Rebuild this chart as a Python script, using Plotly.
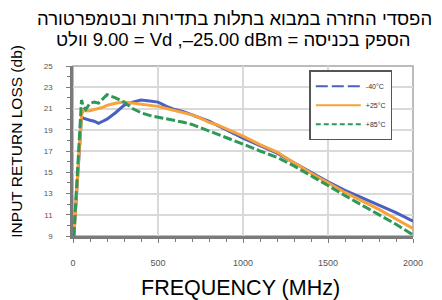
import plotly.graph_objects as go

freq = [5, 25, 50, 60, 75, 100, 125, 150, 175, 200, 250, 300, 350, 400, 450, 500,
        550, 600, 650, 700, 750, 800, 850, 900, 950, 1000, 1100, 1200, 1300, 1400,
        1500, 1600, 1700, 1800, 1900, 2000]

loss_m40 = [9.0, 14.4, 20.2, 20.1, 20.0, 19.9, 19.8, 19.6, 19.8, 20.0, 20.6, 21.3, 21.6, 21.8, 21.7, 21.6,
            21.2, 20.9, 20.7, 20.4, 20.1, 19.8, 19.4, 19.0, 18.6, 18.2, 17.5, 16.8, 15.9, 15.0,
            14.1, 13.3, 12.6, 11.9, 11.2, 10.4]

loss_p25 = [9.0, 14.4, 20.4, 20.8, 20.8, 20.8, 20.9, 21.0, 21.1, 21.3, 21.5, 21.6, 21.5, 21.4, 21.3, 21.2,
            21.0, 20.8, 20.65, 20.4, 20.1, 19.7, 19.45, 19.1, 18.75, 18.4, 17.6, 16.9, 15.9, 14.9,
            14.0, 13.1, 12.3, 11.5, 10.6, 9.7]

loss_p85 = [9.0, 14.5, 21.8, 21.2, 20.9, 21.5, 21.6, 21.5, 21.9, 22.3, 22.0, 21.6, 21.0, 20.6, 20.35, 20.2,
            20.0, 19.85, 19.7, 19.5, 19.2, 18.9, 18.6, 18.3, 17.95, 17.65, 17.0, 16.4, 15.6, 14.7,
            13.75, 12.8, 11.9, 11.0, 10.1, 9.1]

series_names = ["-40°C", "+25°C", "+85°C"]
y_ticks = [9, 11, 13, 15, 17, 19, 21, 23, 25]
x_ticks = [0, 500, 1000, 1500, 2000]

title_line1 = "הפסדי החזרה במבוא בתלות בתדירות ובטמפרטורה"
title_line2 = "וולט\u200e 9.00 = Vd ,–25.00 dBm = הספק בכניסה"
x_title = "FREQUENCY (MHz)"
y_title = "INPUT RETURN LOSS (db)"

colors = ["#4a5fc4", "#f7a23a", "#2e9956"]
plot_dash = ["solid", "solid", "9px,3px"]
legend_dash = ["12px,4px", "solid", "5px,3px"]

FONT = "Liberation Sans, Arial, sans-serif"

fig = go.Figure()
for vals, c, d in zip([loss_m40, loss_p25, loss_p85], colors, plot_dash):
    fig.add_trace(go.Scatter(x=freq, y=vals, mode="lines", showlegend=False,
                             line=dict(color=c, width=3, dash=d)))
for name, c, d in zip(series_names, colors, legend_dash):
    fig.add_trace(go.Scatter(x=[None], y=[None], mode="lines", name=name,
                             line=dict(color=c, width=2, dash=d)))

# the page body adds an 8px offset, so the figure is 8px smaller on each lead edge
fig.update_layout(
    width=434, height=292,
    margin=dict(l=65, r=29, t=58, b=64),
    paper_bgcolor="white", plot_bgcolor="white",
    font=dict(family=FONT, color="black"),
    showlegend=True,
    legend=dict(x=0.695, y=0.975, xanchor="left", yanchor="top",
                bgcolor="white", bordercolor="#555555", borderwidth=1.5,
                font=dict(size=7, color="#333333"), itemwidth=45,
                tracegroupgap=0),
    shapes=[dict(type="rect", xref="paper", yref="paper", x0=0, x1=1, y0=0, y1=1,
                 line=dict(color="#a6a6a6", width=1.5), layer="below")],
    annotations=[
        dict(text=title_line1, xref="paper", yref="paper", x=0.476, y=1.28,
             xanchor="center", yanchor="middle", showarrow=False,
             font=dict(size=18.5, family=FONT, color="black")),
        dict(text=title_line2, xref="paper", yref="paper", x=0.473, y=1.158,
             xanchor="center", yanchor="middle", showarrow=False,
             font=dict(size=18.5, family=FONT, color="black")),
        dict(text=x_title, xref="paper", yref="paper", x=0.494, y=-0.306,
             xanchor="center", yanchor="middle", showarrow=False,
             font=dict(size=21.5, family=FONT, color="black")),
        dict(text=y_title, xref="paper", yref="paper", x=-0.165, y=0.56,
             xanchor="center", yanchor="middle", showarrow=False, textangle=-90,
             font=dict(size=15.5, family=FONT, color="black")),
    ],
)

fig.update_xaxes(range=[0, 2000], tickvals=x_ticks, ticktext=[str(v) for v in x_ticks],
                 showgrid=True, gridcolor="#d9d9d9", gridwidth=1.5,
                 showline=True, linecolor="#7a7a7a", linewidth=2.5,
                 ticks="outside", ticklen=4, tickcolor="#7a7a7a", tickwidth=1,
                 ticklabelstandoff=12,
                 tickfont=dict(size=9, color="#555555"),
                 minor=dict(dtick=100, ticks="outside", ticklen=3, tickcolor="#7a7a7a", showgrid=False),
                 zeroline=False)
fig.update_yaxes(range=[9, 25], tickvals=y_ticks, ticktext=[str(v) for v in y_ticks],
                 showgrid=True, gridcolor="#d9d9d9", gridwidth=1.5,
                 showline=True, linecolor="#7a7a7a", linewidth=2.5,
                 ticks="outside", ticklen=4, tickcolor="#7a7a7a", tickwidth=1,
                 ticklabelstandoff=12,
                 tickfont=dict(size=8, color="#555555"),
                 minor=dict(dtick=1, ticks="outside", ticklen=3, tickcolor="#7a7a7a", showgrid=False),
                 zeroline=False)

fig.write_html("out.html")
